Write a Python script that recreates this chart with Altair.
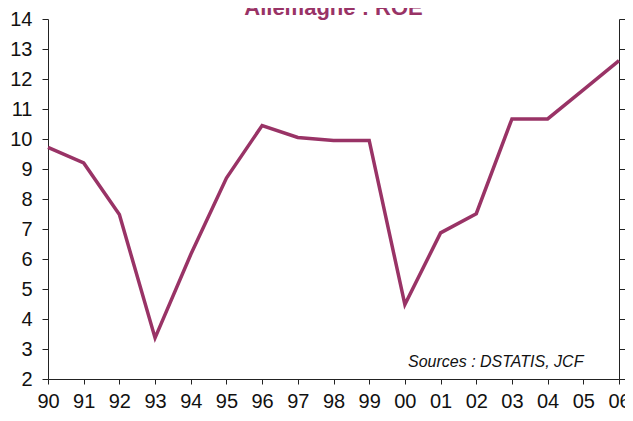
import altair as alt
import pandas as pd

years = ["90", "91", "92", "93", "94", "95", "96", "97", "98", "99",
         "00", "01", "02", "03", "04", "05", "06"]
roe = [9.72, 9.2, 7.48, 3.37, 6.15, 8.7, 10.45, 10.05, 9.95, 9.95,
       4.48, 6.87, 7.51, 10.67, 10.67, 11.64, 12.61]
y_ticks = list(range(2, 15))
title_text = "Allemagne : ROE"
source_text = "Sources : DSTATIS, JCF"

df = pd.DataFrame({"year": years, "roe": roe})

FONT = "Liberation Sans"
LINE_COLOR = "#993366"
AXIS_COLOR = "#222222"
W, H = 571, 360

x_enc = alt.X(
    "year:O", sort=None,
    scale=alt.Scale(type="point", padding=0),
    axis=alt.Axis(title=None, labelAngle=0, labelFontSize=20, labelFont=FONT,
                  labelColor="#111111", labelPadding=7, tickSize=5,
                  tickColor=AXIS_COLOR, domainColor=AXIS_COLOR, grid=False,
                  labelOverlap=False),
)
y_scale = alt.Scale(domain=[2, 14], nice=False, zero=False)

line = alt.Chart(df).mark_line(color=LINE_COLOR, strokeWidth=3.5).encode(
    x=x_enc,
    y=alt.Y("roe:Q", scale=y_scale,
            axis=alt.Axis(title=None, values=y_ticks, tickSize=6, labelPadding=10,
                          labelFontSize=20, labelFont=FONT, labelColor="#111111",
                          tickColor=AXIS_COLOR, domainColor=AXIS_COLOR, grid=False,
                          labelOverlap=False)),
)

right = alt.Chart(df).mark_line(opacity=0).encode(
    x=x_enc,
    y=alt.Y("roe:Q", scale=y_scale,
            axis=alt.Axis(title=None, orient="right", labels=False, values=y_ticks,
                          tickSize=6, tickColor=AXIS_COLOR, domainColor=AXIS_COLOR,
                          grid=False)),
)

title = alt.Chart(pd.DataFrame({"t": [title_text]})).mark_text(
    font=FONT, fontSize=22, fontWeight="bold", color=LINE_COLOR,
    align="center", baseline="alphabetic",
).encode(text="t:N", x=alt.value(W / 2), y=alt.value(-4))

source = alt.Chart(pd.DataFrame({"t": [source_text]})).mark_text(
    font=FONT, fontSize=16, fontStyle="italic", color="#111111",
    align="left", baseline="alphabetic",
).encode(text="t:N", x=alt.value(360), y=alt.value(348))

chart = alt.layer(line, right, title, source).resolve_scale(
    y="independent"
).properties(
    width=W, height=H,
    autosize=alt.AutoSizeParams(type="none"),
    padding={"left": 40, "top": 11, "right": 6, "bottom": 34},
).configure_view(stroke=None)

chart.save("out.html", embed_options={"renderer": "svg", "actions": False})
